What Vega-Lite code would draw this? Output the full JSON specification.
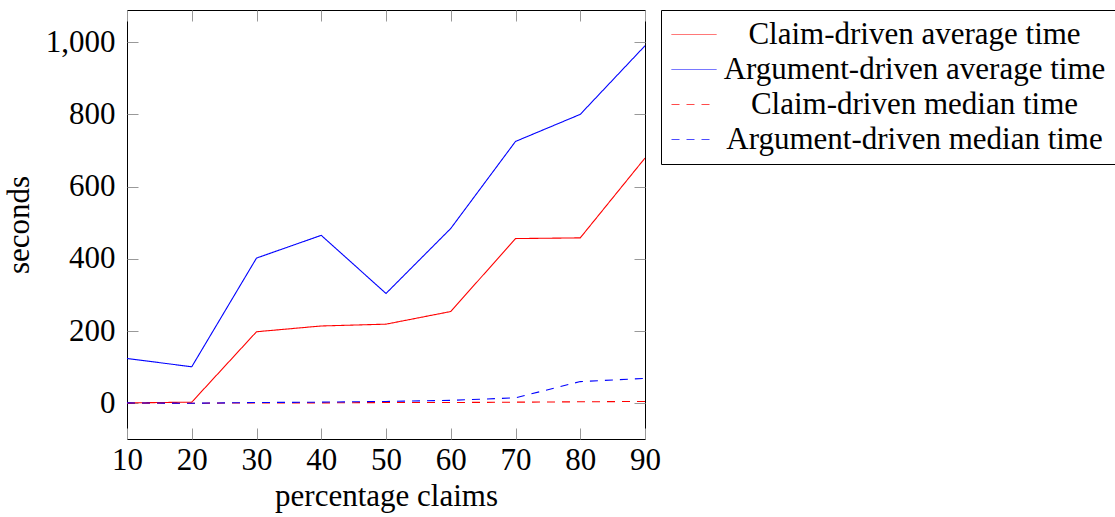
{
  "$schema": "https://vega.github.io/schema/vega-lite/v6.json",
  "width": 518,
  "height": 429,
  "autosize": {"type": "none"},
  "padding": {"left": 127, "top": 10, "right": 470, "bottom": 78},
  "background": "white",
  "config": {
    "font": "Liberation Serif",
    "view": {"stroke": "black", "strokeWidth": 1},
    "axis": {
      "labelFont": "Liberation Serif",
      "titleFont": "Liberation Serif",
      "labelFontSize": 31,
      "titleFontSize": 31,
      "labelColor": "black",
      "titleColor": "black",
      "titleFontWeight": "normal",
      "domain": false,
      "grid": false,
      "tickColor": "#999999",
      "tickWidth": 1,
      "tickSize": -11
    }
  },
  "data": {
    "values": [
      {"x": 10, "series": "Claim-driven average time", "value": 1},
      {"x": 20, "series": "Claim-driven average time", "value": 3},
      {"x": 30, "series": "Claim-driven average time", "value": 198},
      {"x": 40, "series": "Claim-driven average time", "value": 214},
      {"x": 50, "series": "Claim-driven average time", "value": 219},
      {"x": 60, "series": "Claim-driven average time", "value": 254},
      {"x": 70, "series": "Claim-driven average time", "value": 456},
      {"x": 80, "series": "Claim-driven average time", "value": 458},
      {"x": 90, "series": "Claim-driven average time", "value": 679},
      {"x": 10, "series": "Argument-driven average time", "value": 124},
      {"x": 20, "series": "Argument-driven average time", "value": 101},
      {"x": 30, "series": "Argument-driven average time", "value": 402},
      {"x": 40, "series": "Argument-driven average time", "value": 465},
      {"x": 50, "series": "Argument-driven average time", "value": 304},
      {"x": 60, "series": "Argument-driven average time", "value": 484},
      {"x": 70, "series": "Argument-driven average time", "value": 725},
      {"x": 80, "series": "Argument-driven average time", "value": 800},
      {"x": 90, "series": "Argument-driven average time", "value": 990},
      {"x": 10, "series": "Claim-driven median time", "value": 0},
      {"x": 20, "series": "Claim-driven median time", "value": 0},
      {"x": 30, "series": "Claim-driven median time", "value": 1},
      {"x": 40, "series": "Claim-driven median time", "value": 1},
      {"x": 50, "series": "Claim-driven median time", "value": 2},
      {"x": 60, "series": "Claim-driven median time", "value": 2},
      {"x": 70, "series": "Claim-driven median time", "value": 3},
      {"x": 80, "series": "Claim-driven median time", "value": 4},
      {"x": 90, "series": "Claim-driven median time", "value": 5},
      {"x": 10, "series": "Argument-driven median time", "value": 1},
      {"x": 20, "series": "Argument-driven median time", "value": 0},
      {"x": 30, "series": "Argument-driven median time", "value": 2},
      {"x": 40, "series": "Argument-driven median time", "value": 3},
      {"x": 50, "series": "Argument-driven median time", "value": 5},
      {"x": 60, "series": "Argument-driven median time", "value": 8},
      {"x": 70, "series": "Argument-driven median time", "value": 15},
      {"x": 80, "series": "Argument-driven median time", "value": 60},
      {"x": 90, "series": "Argument-driven median time", "value": 69}
    ]
  },
  "resolve": {"axis": {"x": "independent", "y": "independent"}},
  "layer": [
    {
      "mark": {"type": "line", "strokeWidth": 1.1, "clip": true},
      "encoding": {
        "x": {
          "field": "x",
          "type": "quantitative",
          "scale": {"domain": [10, 90], "nice": false, "zero": false},
          "axis": {
            "orient": "bottom",
            "values": [10, 20, 30, 40, 50, 60, 70, 80, 90],
            "format": "d",
            "title": "percentage claims",
            "labelPadding": 17,
            "titlePadding": 6,
            "labelFlush": false
          }
        },
        "y": {
          "field": "value",
          "type": "quantitative",
          "scale": {"domain": [-99, 1089], "nice": false, "zero": false},
          "axis": {
            "orient": "left",
            "values": [0, 200, 400, 600, 800, 1000],
            "format": ",.0f",
            "title": "seconds",
            "labelPadding": 23,
            "titlePadding": 10
          }
        },
        "color": {
          "field": "series",
          "type": "nominal",
          "scale": {
            "domain": ["Claim-driven average time", "Argument-driven average time", "Claim-driven median time", "Argument-driven median time"],
            "range": ["#ff0000", "#0000ff", "#ff0000", "#0000ff"]
          },
          "legend": {
            "title": null,
            "orient": "none",
            "legendX": 534,
            "legendY": 0,
            "symbolType": "M-2,0H2",
            "symbolSize": 506.25,
            "symbolOffset": 8.5,
            "symbolStrokeWidth": 1,
            "symbolOpacity": 0.7,
            "labelFont": "Liberation Serif",
            "labelFontSize": 31,
            "labelColor": "black",
            "labelAlign": "center",
            "labelOffset": 205,
            "labelLimit": 500,
            "rowPadding": 3,
            "padding": 9,
            "strokeColor": "black",
            "fillColor": "white"
          }
        },
        "strokeDash": {
          "field": "series",
          "type": "nominal",
          "scale": {
            "domain": ["Claim-driven average time", "Argument-driven average time", "Claim-driven median time", "Argument-driven median time"],
            "range": [[1, 0], [1, 0], [8, 7], [8, 7]]
          },
          "legend": null
        }
      }
    },
    {
      "mark": {"type": "line", "opacity": 0},
      "encoding": {
        "x": {
          "field": "x",
          "type": "quantitative",
          "axis": {"orient": "top", "values": [10, 20, 30, 40, 50, 60, 70, 80, 90], "labels": false, "title": null}
        },
        "y": {
          "field": "value",
          "type": "quantitative",
          "axis": {"orient": "right", "values": [0, 200, 400, 600, 800, 1000], "labels": false, "title": null}
        },
        "detail": {"field": "series", "type": "nominal"}
      }
    }
  ]
}
